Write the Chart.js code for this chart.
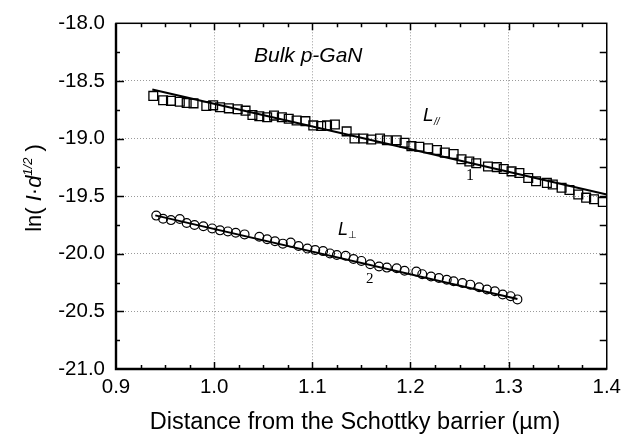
<!DOCTYPE html>
<html>
<head>
<meta charset="utf-8">
<script src="https://cdn.jsdelivr.net/npm/chart.js@4.4.0/dist/chart.umd.min.js"></script>
<style>
html, body { margin: 0; padding: 0; background: #fff; }
</style>
</head>
<body>
<canvas id="chart" width="627" height="434"></canvas>
<script>
// Data -------------------------------
// curve 1: L parallel (squares)
var parallelX = [0.938, 0.948, 0.956, 0.965, 0.972, 0.979, 0.992, 0.999, 1.006, 1.015, 1.024, 1.032,
                 1.039, 1.046, 1.054, 1.061, 1.069, 1.076, 1.084, 1.093, 1.101, 1.109, 1.115, 1.123,
                 1.135, 1.143, 1.152, 1.160, 1.169, 1.176, 1.186, 1.194, 1.201, 1.209, 1.218, 1.227,
                 1.235, 1.244, 1.252, 1.260, 1.267, 1.279, 1.288, 1.295, 1.303, 1.311, 1.320, 1.328,
                 1.339, 1.345, 1.354, 1.362, 1.371, 1.379, 1.387, 1.396];
var parallelY = [-18.630, -18.667, -18.673, -18.681, -18.692, -18.695, -18.718, -18.712, -18.729, -18.738, -18.746, -18.758,
                 -18.795, -18.806, -18.815, -18.801, -18.815, -18.829, -18.844, -18.849, -18.886, -18.891, -18.886, -18.878,
                 -18.938, -19.000, -19.000, -19.009, -19.000, -19.015, -19.015, -19.037, -19.066, -19.071, -19.085, -19.100,
                 -19.122, -19.134, -19.179, -19.199, -19.214, -19.242, -19.248, -19.265, -19.285, -19.299, -19.342, -19.370,
                 -19.385, -19.399, -19.427, -19.447, -19.485, -19.513, -19.527, -19.550];

// curve 2: L perpendicular (circles)
var perpX = [0.941, 0.948, 0.956, 0.965, 0.972, 0.980, 0.989, 0.998, 1.006, 1.014, 1.022, 1.031,
             1.046, 1.054, 1.062, 1.070, 1.078, 1.086, 1.095, 1.103, 1.111, 1.118, 1.125, 1.134,
             1.142, 1.150, 1.159, 1.168, 1.176, 1.186, 1.194, 1.206, 1.212, 1.221, 1.229, 1.237,
             1.244, 1.253, 1.261, 1.270, 1.278, 1.286, 1.294, 1.302, 1.309];
var perpY = [-19.669, -19.696, -19.708, -19.698, -19.733, -19.750, -19.761, -19.780, -19.797, -19.806, -19.818, -19.832,
             -19.852, -19.874, -19.891, -19.912, -19.903, -19.932, -19.955, -19.968, -19.977, -19.997, -20.011, -20.017,
             -20.045, -20.062, -20.091, -20.111, -20.120, -20.126, -20.148, -20.154, -20.177, -20.197, -20.211, -20.225,
             -20.239, -20.254, -20.268, -20.291, -20.310, -20.325, -20.353, -20.368, -20.396];

// straight fits 1 and 2
var fit1X = [0.937, 1.400];
var fit1Y = [-18.575, -19.485];
var fit2X = [0.940, 1.309];
var fit2Y = [-19.667, -20.393];

// tick labels
var xTicks = [0.9, 1.0, 1.1, 1.2, 1.3, 1.4];
var yTicks = [-18.0, -18.5, -19.0, -19.5, -20.0, -20.5, -21.0];

function toPoints(xs, ys) {
    return xs.map(function (x, i) { return { x: x, y: ys[i] }; });
}

var FONT = 'Liberation Sans, Arial, Helvetica, sans-serif';
var SERIF = 'Liberation Serif, Times New Roman, serif';

// Grid colour: hide the lines lying on the frame
function gridColor(ctx, ticks) {
    var v = ctx.tick.value;
    if (v === ticks[0] || v === ticks[ticks.length - 1]) return 'rgba(0,0,0,0)';
    return '#9a9a9a';
}

// Frame, inward tick marks, axis titles and labels ----------
var decorations = {
    id: 'decorations',
    afterDraw: function (chart) {
        var ctx = chart.ctx;
        var a = chart.chartArea;
        var xs = chart.scales.x;
        var ys = chart.scales.y;
        ctx.save();
        ctx.strokeStyle = '#000';
        ctx.fillStyle = '#000';

        // frame
        ctx.lineWidth = 1.5;
        ctx.strokeRect(a.left, a.top, a.right - a.left, a.bottom - a.top);
        ctx.lineWidth = 2.4;
        ctx.beginPath();
        ctx.moveTo(a.left, a.top);
        ctx.lineTo(a.left, a.bottom);
        ctx.lineTo(a.right, a.bottom);
        ctx.stroke();

        // x tick marks, every 0.025, longer at 0.1
        ctx.lineWidth = 1.5;
        ctx.beginPath();
        for (var i = 1; i < 20; i++) {
            var px = Math.round(xs.getPixelForValue(xTicks[0] + i * 0.025)) + 0.5;
            var len = (i % 4 === 0) ? 7 : 4;
            ctx.moveTo(px, a.bottom);
            ctx.lineTo(px, a.bottom - len);
            ctx.moveTo(px, a.top);
            ctx.lineTo(px, a.top + len);
        }
        // y tick marks, every 0.25, longer at 0.5
        for (var j = 1; j < 12; j++) {
            var py = Math.round(ys.getPixelForValue(yTicks[0] - j * 0.25)) + 0.5;
            var l2 = (j % 2 === 0) ? 8 : 4;
            ctx.moveTo(a.left, py);
            ctx.lineTo(a.left + l2, py);
            ctx.moveTo(a.right, py);
            ctx.lineTo(a.right - 7, py);
        }
        ctx.stroke();

        // x axis title
        ctx.textAlign = 'center';
        ctx.textBaseline = 'alphabetic';
        ctx.font = '23.5px ' + FONT;
        ctx.fillText('Distance from the Schottky barrier (\u00b5m)', 355, 429);

        // y axis title: ln( I·d^1/2 )
        var parts = [
            { t: 'ln( ', f: '22px ' + FONT, dy: 0 },
            { t: 'I', f: 'italic 22px ' + FONT, dy: 0 },
            { t: '\u00b7', f: '22px ' + FONT, dy: 0 },
            { t: 'd', f: 'italic 22px ' + FONT, dy: 0 },
            { t: '1/2', f: 'italic 13px ' + FONT, dy: -9 },
            { t: ' )', f: '22px ' + FONT, dy: 0 }
        ];
        var total = 0;
        parts.forEach(function (p) { ctx.font = p.f; p.w = ctx.measureText(p.t).width; total += p.w; });
        ctx.save();
        ctx.translate(41, 188);
        ctx.rotate(-Math.PI / 2);
        ctx.textAlign = 'left';
        var cx = -total / 2;
        parts.forEach(function (p) { ctx.font = p.f; ctx.fillText(p.t, cx, p.dy); cx += p.w; });
        ctx.restore();

        // labels inside the plot
        ctx.textAlign = 'left';
        ctx.font = 'italic 21px ' + FONT;
        ctx.fillText('Bulk p-GaN', 254, 62);

        ctx.font = 'italic 19px ' + FONT;
        ctx.fillText('L', 423, 121);
        ctx.font = 'italic 10px ' + FONT;
        ctx.fillText('//', 434, 125);

        ctx.font = 'italic 18px ' + FONT;
        ctx.fillText('L', 338, 235);
        ctx.font = '10px ' + FONT;
        ctx.fillText('\u22a5', 348, 238);

        ctx.font = '16px ' + SERIF;
        ctx.fillText('1', 466, 180);
        ctx.font = '15px ' + SERIF;
        ctx.fillText('2', 366, 283);

        ctx.restore();
    }
};

var ctx = document.getElementById('chart').getContext('2d');

var myChart = new Chart(ctx, {
    type: 'scatter',
    data: {
        datasets: [
            {
                data: toPoints(parallelX, parallelY),
                pointStyle: 'rect',
                pointRadius: 6.2,
                borderColor: '#000',
                borderWidth: 1.3,
                backgroundColor: 'rgba(0,0,0,0)',
                showLine: false
            },
            {
                data: toPoints(perpX, perpY),
                pointStyle: 'circle',
                pointRadius: 4.4,
                borderColor: '#000',
                borderWidth: 1.2,
                backgroundColor: 'rgba(0,0,0,0)',
                showLine: false
            },
            {
                data: toPoints(fit1X, fit1Y),
                showLine: true,
                borderColor: '#000',
                borderWidth: 2,
                pointRadius: 0
            },
            {
                data: toPoints(fit2X, fit2Y),
                showLine: true,
                borderColor: '#000',
                borderWidth: 2,
                pointRadius: 0
            }
        ]
    },
    options: {
        responsive: false,
        animation: false,
        events: [],
        layout: { padding: { top: 18, right: 20, left: 0, bottom: 0 } },
        plugins: {
            legend: { display: false },
            tooltip: { enabled: false }
        },
        scales: {
            x: {
                type: 'linear',
                min: 0.9,
                max: 1.4,
                afterFit: function (scale) { scale.height = 65; },
                afterBuildTicks: function (scale) {
                    scale.ticks = xTicks.map(function (v) { return { value: v }; });
                },
                grid: {
                    drawTicks: false,
                    lineWidth: 1,
                    color: function (c) { return gridColor(c, xTicks); }
                },
                border: { display: false, dash: [1, 2] },
                ticks: {
                    padding: 6,
                    color: '#000',
                    maxRotation: 0,
                    autoSkip: false,
                    font: { family: FONT, size: 20.5 },
                    callback: function (v) { return v.toFixed(1); }
                }
            },
            y: {
                type: 'linear',
                min: -21,
                max: -18,
                afterFit: function (scale) { scale.width = 116; },
                afterBuildTicks: function (scale) {
                    scale.ticks = yTicks.map(function (v) { return { value: v }; });
                },
                grid: {
                    drawTicks: false,
                    lineWidth: 1,
                    color: function (c) { return gridColor(c, yTicks); }
                },
                border: { display: false, dash: [1, 2] },
                ticks: {
                    padding: 11,
                    color: '#000',
                    autoSkip: false,
                    font: { family: FONT, size: 20.5 },
                    callback: function (v) { return v.toFixed(1); }
                }
            }
        }
    },
    plugins: [decorations]
});
</script>
</body>
</html>
